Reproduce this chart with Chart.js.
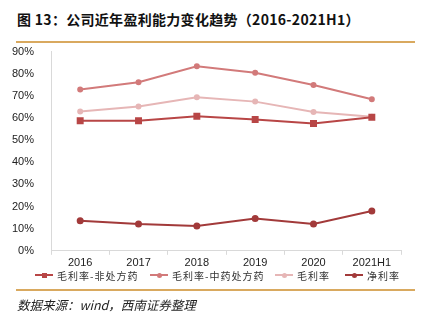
<!DOCTYPE html>
<html>
<head>
<meta charset="utf-8">
<script src="https://cdn.jsdelivr.net/npm/chart.js@4"></script>
<style>
  body { margin: 0; width: 430px; height: 323px; background: #fff; position: relative; overflow: hidden; font-family: "Noto Sans CJK SC", sans-serif; }
  #title { position: absolute; left: 17px; top: 9px; font-size: 14px; font-weight: bold; color: #111; letter-spacing: 0.3px; }
  .rule { position: absolute; left: 16px; width: 399px; height: 2px; background: #d9a95f; }
  #box { position: absolute; left: 0; top: 36px; width: 430px; height: 236px; }
  #legend { position: absolute; left: 0; top: 267px; width: 430px; height: 16px; font-size: 10px; color: #333; }
  .item { position: absolute; top: 0; display: flex; align-items: center; height: 16px; letter-spacing: 1px; white-space: nowrap; }
  .mark { position: relative; width: 18px; height: 2px; margin-right: 4px; }
  .mark i { position: absolute; left: 7px; top: -1.5px; width: 5px; height: 5px; }
  #source { position: absolute; left: 17px; top: 295px; font-size: 12.5px; font-style: italic; color: #222; }
</style>
</head>
<body>
<div id="title">图 13：公司近年盈利能力变化趋势（2016-2021H1）</div>
<div class="rule" style="top:41px"></div>
<div id="box"><canvas id="c" width="430" height="236"></canvas></div>
<div id="legend"></div>
<div class="rule" style="top:289px;height:1.5px"></div>
<div id="source">数据来源：wind，西南证券整理</div>
<script>
// categories and series (in %)
const years = ['2016', '2017', '2018', '2019', '2020', '2021H1'];
const grossOtc = [58.8, 58.8, 60.8, 59.3, 57.5, 60.3];   // 毛利率-非处方药
const grossTcm = [72.9, 76.2, 83.4, 80.4, 74.9, 68.5];   // 毛利率-中药处方药
const grossAll = [62.9, 65.2, 69.4, 67.4, 62.7, 60.6];   // 毛利率
const netMargin = [13.6, 12.1, 11.2, 14.6, 12.1, 18.0];  // 净利率
const yTicks = [0, 10, 20, 30, 40, 50, 60, 70, 80, 90];

const line = (label, data, color, style, r) => ({
  label, data,
  borderColor: color,
  backgroundColor: color,
  pointBackgroundColor: color,
  pointBorderColor: color,
  pointStyle: style,
  pointRadius: r,
  borderWidth: 2,
  tension: 0,
});

const chart = new Chart(document.getElementById('c'), {
  type: 'line',
  data: {
    labels: years,
    datasets: [
      line('毛利率-非处方药', grossOtc, '#b84646', 'rect', 3.5),
      line('毛利率-中药处方药', grossTcm, '#d27a7a', 'circle', 2),
      line('毛利率', grossAll, '#e6b6b6', 'circle', 2),
      line('净利率', netMargin, '#a23a3a', 'circle', 2.5),
    ]
  },
  options: {
    responsive: false,
    animation: false,
    layout: { padding: { left: 3, right: 29, top: 1, bottom: 0 } },
    plugins: {
      tooltip: { enabled: false },
      legend: { display: false }
    },
    scales: {
      x: {
        offset: true,
        grid: { display: true, offset: true, drawOnChartArea: false, tickLength: 4, color: '#d9d9d9' },
        border: { color: '#d9d9d9' },
        ticks: { color: '#222', font: { family: 'Liberation Sans, Arial', size: 11 }, padding: 2 }
      },
      y: {
        min: 0,
        max: 90,
        afterBuildTicks: axis => { axis.ticks = yTicks.map(v => ({ value: v })); },
        grid: { display: false },
        border: { color: '#d9d9d9' },
        ticks: { color: '#222', font: { family: 'Liberation Sans, Arial', size: 11 }, padding: 9, callback: v => v + '%' }
      }
    }
  }
});

// legend below the plot, built from the datasets
const legendLeft = [35, 150, 275, 345];
const legend = document.getElementById('legend');
chart.data.datasets.forEach((ds, i) => {
  const item = document.createElement('div');
  item.className = 'item';
  item.style.left = legendLeft[i] + 'px';
  const dot = ds.pointStyle === 'rect' ? '' : 'border-radius:50%;';
  item.innerHTML = `<span class="mark" style="background:${ds.borderColor}"><i style="background:${ds.borderColor};${dot}"></i></span>${ds.label}`;
  legend.appendChild(item);
});
</script>
</body>
</html>
